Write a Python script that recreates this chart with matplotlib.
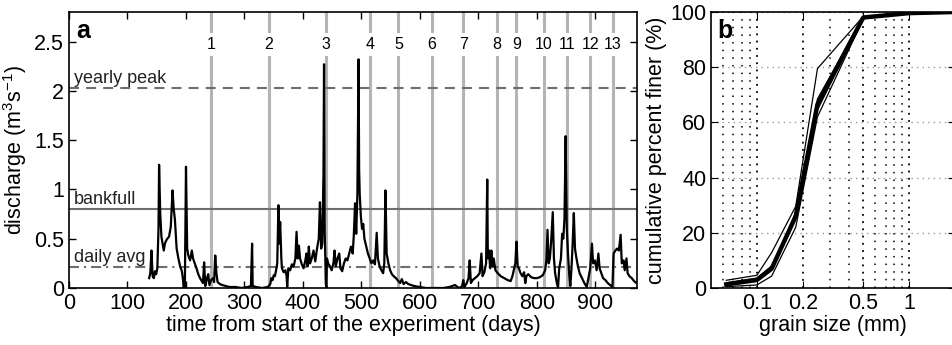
import matplotlib
matplotlib.use("Agg")
import matplotlib.pyplot as plt
from matplotlib.ticker import FixedLocator, NullFormatter

plt.rcParams['font.family'] = ['Liberation Sans', 'DejaVu Sans']
plt.rcParams['mathtext.default'] = 'regular'

# discharge record (day, m3/s)
days = [137, 139, 141, 143, 145, 147, 149, 151, 153, 154, 156, 158, 160, 162, 164, 166,
        168, 171, 174, 177, 179, 181, 184, 187, 190, 193, 195, 196, 198, 200, 202, 204,
        207, 210, 212, 215, 218, 221, 224, 227, 229, 231, 233, 236, 238, 240, 243, 246,
        248, 250, 252, 254, 258, 262, 268, 275, 285, 295, 305, 311, 313, 314, 320, 330,
        340, 344, 346, 348, 350, 352, 354, 356, 358, 359, 361, 363, 364, 367, 370, 372,
        373, 375, 378, 381, 384, 387, 389, 391, 393, 395, 398, 401, 404, 406, 408, 410,
        412, 415, 418, 421, 424, 427, 429, 431, 433, 435, 436, 437, 438, 439, 440, 441,
        443, 446, 449, 452, 454, 456, 459, 462, 464, 467, 470, 473, 476, 479, 482, 485,
        487, 489, 491, 493, 495, 496, 497, 499, 501, 503, 505, 507, 509, 511, 514, 517,
        520, 523, 526, 528, 531, 534, 537, 539, 541, 543, 546, 549, 552, 555, 559, 563,
        566, 569, 572, 576, 580, 585, 590, 600, 610, 640, 650, 655, 660, 664, 668, 672,
        674, 676, 680, 683, 685, 687, 690, 694, 698, 702, 705, 707, 710, 713, 715, 716,
        718, 720, 722, 724, 726, 729, 733, 738, 744, 750, 755, 758, 761, 763, 765, 767,
        769, 772, 775, 778, 780, 782, 785, 790, 795, 800, 805, 810, 814, 816, 818, 820,
        822, 824, 827, 829, 831, 834, 836, 838, 841, 843, 845, 847, 849, 851, 853, 855,
        857, 859, 861, 863, 865, 867, 870, 873, 877, 881, 885, 888, 891, 894, 896, 899,
        902, 905, 907, 910, 913, 917, 921, 925, 929, 931, 934, 937, 940, 943, 945, 948,
        950, 953, 955, 958, 962, 966, 970, 975]
discharge = [0.10, 0.15, 0.38, 0.12, 0.10, 0.17, 0.14, 0.20, 0.60, 1.25, 0.75, 0.52, 0.45, 0.38, 0.45, 0.48,
             0.50, 0.52, 0.62, 0.99, 0.80, 0.70, 0.40, 0.30, 0.22, 0.17, 0.08, 0.00, 0.00, 1.23, 0.40, 0.33,
             0.28, 0.38, 0.30, 0.25, 0.20, 0.14, 0.10, 0.07, 0.05, 0.26, 0.02, 0.10, 0.14, 0.03, 0.08, 0.10,
             0.06, 0.33, 0.15, 0.06, 0.04, 0.03, 0.02, 0.01, 0.01, 0.00, 0.01, 0.02, 0.45, 0.02, 0.01, 0.00,
             0.01, 0.04, 0.10, 0.08, 0.13, 0.12, 0.18, 0.25, 0.84, 0.45, 0.67, 0.30, 0.20, 0.16, 0.18, 0.12,
             0.01, 0.20, 0.18, 0.24, 0.22, 0.30, 0.57, 0.30, 0.43, 0.30, 0.24, 0.20, 0.28, 0.35, 0.22, 0.42,
             0.25, 0.30, 0.38, 0.27, 0.40, 0.50, 0.87, 0.40, 0.45, 1.15, 2.27, 0.60, 0.35, 0.05, 0.00, 0.30,
             0.25, 0.22, 0.18, 0.25, 0.38, 0.22, 0.30, 0.35, 0.20, 0.17, 0.25, 0.30, 0.28, 0.35, 0.42, 0.35,
             0.55, 0.86, 0.55, 0.95, 2.32, 1.20, 0.95, 0.72, 0.60, 0.65, 0.50, 0.45, 0.40, 0.35, 0.30, 0.25,
             0.28, 0.24, 0.56, 0.30, 0.22, 0.18, 0.15, 0.25, 0.99, 0.35, 0.25, 0.18, 0.14, 0.12, 0.10, 0.07,
             0.05, 0.09, 0.04, 0.06, 0.04, 0.03, 0.02, 0.01, 0.00, 0.00, 0.01, 0.02, 0.03, 0.01, 0.00, 0.02,
             0.08, 0.01, 0.05, 0.10, 0.28, 0.05, 0.08, 0.10, 0.12, 0.15, 0.35, 0.12, 0.16, 0.25, 1.10, 0.30,
             0.38, 0.20, 0.38, 0.22, 0.30, 0.18, 0.15, 0.12, 0.10, 0.08, 0.07, 0.12, 0.20, 0.25, 0.47, 0.22,
             0.20, 0.15, 0.12, 0.16, 0.05, 0.12, 0.14, 0.11, 0.10, 0.10, 0.11, 0.13, 0.18, 0.28, 0.59, 0.25,
             0.30, 0.45, 0.77, 0.30, 0.15, 0.05, 0.00, 0.20, 0.30, 0.55, 0.50, 0.70, 1.54, 0.60, 0.35, 0.15,
             0.02, 0.20, 0.45, 0.76, 0.40, 0.32, 0.22, 0.15, 0.10, 0.05, 0.01, 0.10, 0.20, 0.45, 0.25, 0.28,
             0.18, 0.35, 0.20, 0.15, 0.10, 0.08, 0.05, 0.03, 0.01, 0.35, 0.38, 0.40, 0.38, 0.54, 0.25, 0.28,
             0.18, 0.30, 0.15, 0.12, 0.10, 0.07, 0.05, 0.08]

# sampling days (numbered)
sample_days = [243, 342, 439, 514, 563, 620, 674, 731, 765, 812, 852, 891, 930]
sample_labels = [str(i) for i in range(1, 14)]

yearly_peak = 2.03
bankfull = 0.80
daily_avg = 0.21

# grain size distributions
sieve_mm = [0.063, 0.1, 0.125, 0.18, 0.25, 0.5, 1.0, 2.0]
gsd_mean = [1.3, 2.9, 7.0, 26.0, 66.5, 98.0, 99.6, 100.0]
gsd_samples = [
    [2.8, 4.6, 12.8, 29.6, 79.5, 98.4, 99.7, 100.0],
    [0.5, 1.1, 4.3, 22.0, 62.0, 97.6, 99.5, 100.0],
    [1.9, 3.6, 8.0, 25.4, 64.5, 98.0, 99.6, 100.0],
    [1.0, 2.5, 6.5, 27.5, 68.5, 98.2, 99.6, 100.0],
]

fig = plt.figure(figsize=(9.52, 3.45), dpi=100)
ax = fig.add_axes([69/952, 57/345, 568/952, 276/345])
axb = fig.add_axes([711/952, 57/345, 244/952, 276/345])

fs = 15.5

# --- panel a: discharge ---
for d, lab in zip(sample_days, sample_labels):
    ax.axvline(d, color='#b4b4b4', lw=2.2, zorder=1)
    ax.text(d, 2.47, lab, ha='center', va='center', fontsize=11.5, zorder=3,
            bbox=dict(facecolor='white', edgecolor='none', pad=3.0))

ax.axhline(yearly_peak, color='#6e6e6e', lw=1.5, dashes=(4.8, 3.4), zorder=2)
ax.axhline(bankfull, color='#6e6e6e', lw=1.5, zorder=2)
ax.axhline(daily_avg, color='#6e6e6e', lw=1.5, dashes=(4.8, 2.4, 1.0, 2.4), zorder=2)
ax.text(8, yearly_peak + 0.01, 'yearly peak', fontsize=13, color='#222222', va='bottom')
ax.text(8, bankfull + 0.01, 'bankfull', fontsize=13, color='#222222', va='bottom')
ax.text(8, daily_avg + 0.01, 'daily avg', fontsize=13, color='#222222', va='bottom')

ax.plot(days, discharge, color='black', lw=1.6, zorder=4)

ax.set_xlim(0, 971)
ax.set_ylim(0, 2.8)
ax.set_xticks(range(0, 1000, 100))
ax.set_yticks([0, 0.5, 1, 1.5, 2, 2.5])
ax.set_yticklabels(['0', '0.5', '1', '1.5', '2', '2.5'])
ax.tick_params(direction='in', top=True, right=True, labelsize=fs, length=5, width=1)
ax.set_xlabel('time from start of the experiment (days)', fontsize=fs, labelpad=1)
ax.set_ylabel('discharge (m$^3$s$^{-1}$)', fontsize=fs, labelpad=4)
ax.text(0.012, 0.975, 'a', transform=ax.transAxes, fontsize=18, fontweight='bold',
        va='top', ha='left', zorder=5)
for s in ax.spines.values():
    s.set_linewidth(1.2)

# --- panel b: grain size ---
axb.set_xscale('log')
axb.set_xlim(0.05, 2)
axb.set_ylim(0, 100)
axb.xaxis.set_major_locator(FixedLocator([0.1, 0.2, 0.5, 1]))
axb.set_xticklabels(['0.1', '0.2', '0.5', '1'])
axb.xaxis.set_minor_locator(FixedLocator([0.06, 0.07, 0.08, 0.09, 0.3, 0.4, 0.6, 0.7, 0.8, 0.9]))
axb.xaxis.set_minor_formatter(NullFormatter())
axb.set_yticks(range(0, 101, 20))
axb.grid(which='major', axis='x', color='black', ls=(0, (1, 3)), lw=1.3)
axb.grid(which='minor', axis='x', color='black', ls=(0, (1, 4)), lw=1.1)
axb.grid(which='major', axis='y', color='#999999', ls=(0, (1, 3)), lw=1.0)
axb.tick_params(which='both', direction='in', top=True, right=True, labelsize=fs, length=5)
axb.tick_params(which='minor', length=0)

for g in gsd_samples:
    axb.plot(sieve_mm, g, color='black', lw=0.9, zorder=3)
axb.plot(sieve_mm, gsd_mean, color='black', lw=3.2, zorder=4)

axb.set_xlabel('grain size (mm)', fontsize=fs, labelpad=1)
axb.set_ylabel('cumulative percent finer (%)', fontsize=fs, labelpad=2)
axb.text(0.025, 0.975, 'b', transform=axb.transAxes, fontsize=18, fontweight='bold',
         va='top', ha='left', zorder=5)
for s in axb.spines.values():
    s.set_linewidth(1.2)

fig.savefig('out.png', dpi=100)
